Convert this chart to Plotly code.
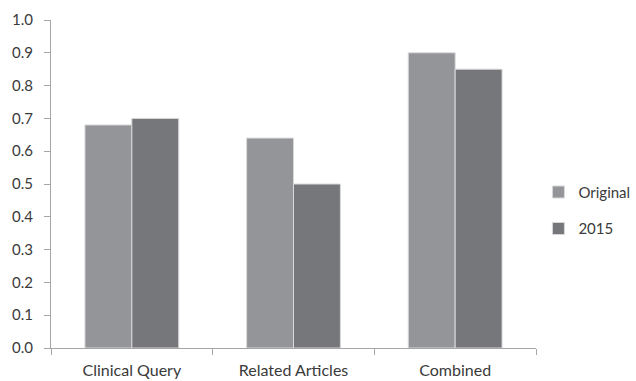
import plotly.graph_objects as go

categories = ["Clinical Query", "Related Articles", "Combined"]
original = [0.68, 0.64, 0.90]
y2015 = [0.70, 0.50, 0.85]
y_ticks = [0.0, 0.1, 0.2, 0.3, 0.4, 0.5, 0.6, 0.7, 0.8, 0.9, 1.0]

font_family = "Lato, 'Open Sans', sans-serif"
text_color = "#3a3a3a"
axis_color = "#a6a6a6"

fig = go.Figure()
fig.add_trace(go.Bar(
    name="Original", x=categories, y=original,
    marker=dict(color="#939598", line=dict(color="#d9d9d9", width=1)),
    legendgroup="a",
))
fig.add_trace(go.Bar(
    name="2015", x=categories, y=y2015,
    marker=dict(color="#76777b", line=dict(color="#d9d9d9", width=1)),
    legendgroup="b",
))

fig.update_layout(
    width=636, height=381,
    margin=dict(l=51, r=100, t=20, b=33, autoexpand=False),
    paper_bgcolor="white", plot_bgcolor="white",
    barmode="group", bargap=0.42, bargroupgap=0.0,
    font=dict(family=font_family, size=15, color=text_color),
    legend=dict(
        x=1.005, y=0.42, xanchor="left", yanchor="middle",
        font=dict(size=15, color=text_color),
        tracegroupgap=14, itemwidth=30,
    ),
    showlegend=True,
)
fig.update_xaxes(
    showline=True, linecolor=axis_color, linewidth=1,
    ticks="outside", tickson="boundaries", ticklen=6, tickcolor=axis_color,
    showgrid=False, tickfont=dict(size=16, color=text_color),
    ticklabelstandoff=8,
)
fig.update_yaxes(
    range=[0, 1.0], tickvals=y_ticks, ticktext=[f"{v:.1f}" for v in y_ticks],
    showline=True, linecolor=axis_color, linewidth=1,
    ticks="outside", ticklen=6, tickcolor=axis_color,
    showgrid=False, zeroline=False, tickfont=dict(size=15, color=text_color),
    ticklabelstandoff=8,
)

fig.write_html("out.html")
